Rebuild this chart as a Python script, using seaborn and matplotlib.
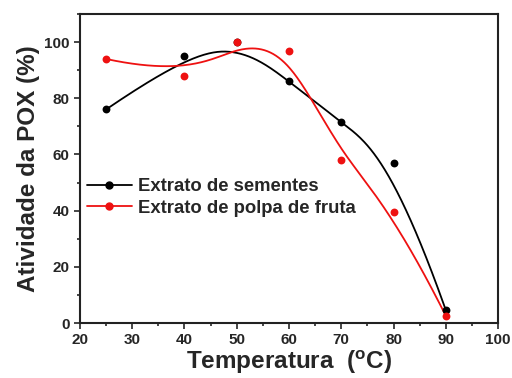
import matplotlib
matplotlib.use("Agg")
import matplotlib.pyplot as plt
import seaborn as sns
import numpy as np
from matplotlib.lines import Line2D
from matplotlib.ticker import MultipleLocator

temperatura = [25, 40, 50, 60, 70, 80, 90]
sementes = [76, 95, 100, 86, 71.5, 57, 4.5]
polpa = [94, 88, 100, 97, 58, 39.5, 2.5]
series_labels = ["Extrato de sementes", "Extrato de polpa de fruta"]
series_colors = ["black", "#ee1111"]


def bspline(px, py, n=300):
    # clamped cubic B-spline with the data points as control points (Origin style)
    P = np.column_stack([px, py]).astype(float)
    m = len(P)
    k = 3
    knots = np.concatenate([[0] * k, np.arange(m - k + 1), [m - k] * k]).astype(float)
    ts = np.linspace(0, m - k, n)
    out = []
    for t in ts:
        if t >= knots[-1]:
            out.append(P[-1])
            continue
        N = np.array([1.0 if knots[i] <= t < knots[i + 1] else 0.0 for i in range(len(knots) - 1)])
        for d in range(1, k + 1):
            Nn = np.zeros(len(knots) - 1 - d)
            for i in range(len(Nn)):
                a = 0.0 if knots[i + d] == knots[i] else (t - knots[i]) / (knots[i + d] - knots[i]) * N[i]
                b = 0.0 if knots[i + d + 1] == knots[i + 1] else (knots[i + d + 1] - t) / (knots[i + d + 1] - knots[i + 1]) * N[i + 1]
                Nn[i] = a + b
            N = Nn
        out.append(N @ P)
    out = np.array(out)
    return out[:, 0], out[:, 1]


sns.set_style("ticks")
plt.rcParams['font.family'] = ['Liberation Sans', 'DejaVu Sans']
plt.rcParams['font.weight'] = 'bold'
plt.rcParams['mathtext.default'] = 'regular'

fig = plt.figure(figsize=(5.12, 3.78), dpi=100)
ax = fig.add_axes([0.156, 0.1455, 0.817, 0.8175])

for vals, color in zip([sementes, polpa], series_colors):
    cx, cy = bspline(temperatura, vals)
    sns.lineplot(x=cx, y=cy, sort=False, estimator=None, color=color, lw=1.3, ax=ax)
    sns.scatterplot(x=temperatura, y=vals, color=color, s=32, edgecolor=color,
                    linewidth=0, ax=ax, zorder=3)

ax.set_xlim(20, 100)
ax.set_ylim(0, 110)
ax.set_xticks(range(20, 101, 10))
ax.set_yticks(range(0, 101, 20))
ax.xaxis.set_minor_locator(MultipleLocator(5))
ax.yaxis.set_minor_locator(MultipleLocator(10))
ax.tick_params(which='major', length=4, width=1.2, labelsize=11)
ax.tick_params(which='minor', length=2.5, width=1.2)
for s in ax.spines.values():
    s.set_linewidth(1.5)
    s.set_color('#222222')

ax.set_xlabel("Temperatura  ($^{o}$C)", fontsize=17.5, fontweight='bold', labelpad=1)
ax.set_ylabel("Atividade da POX (%)", fontsize=17.5, fontweight='bold', labelpad=3)

handles = [Line2D([0], [0], color=c, lw=1.3, marker='o', markersize=5) for c in series_colors]
ax.legend(handles, series_labels, loc='center left', bbox_to_anchor=(0.0, 0.406),
          frameon=False, fontsize=13.3, handlelength=2.4, handletextpad=0.32,
          labelspacing=0.25, borderaxespad=0.0)

plt.savefig("out.png", dpi=100)
